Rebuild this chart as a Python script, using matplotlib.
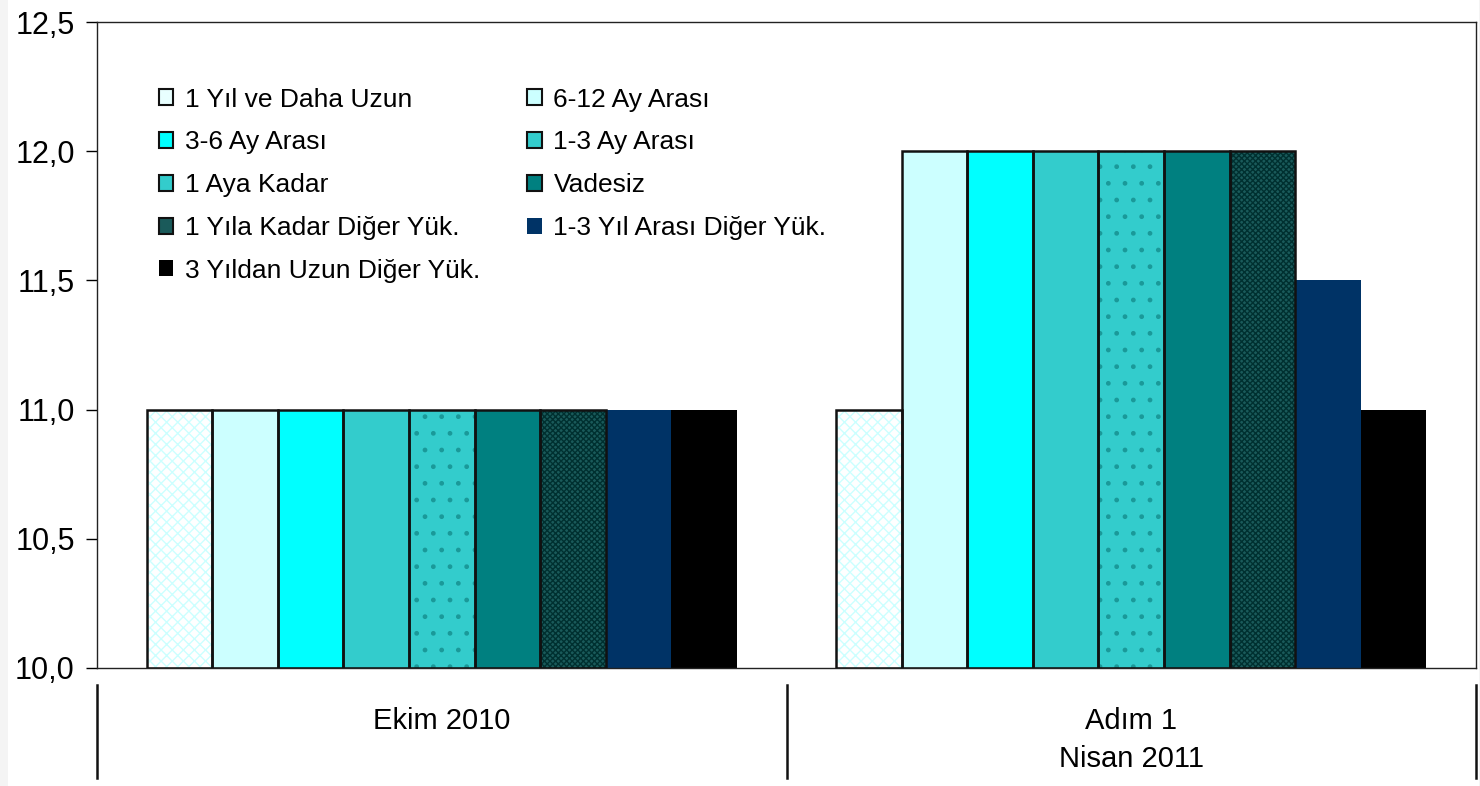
import matplotlib
matplotlib.use("Agg")
import matplotlib.pyplot as plt
from matplotlib.patches import Patch, Rectangle
import numpy as np

plt.rcParams['font.family'] = ['Liberation Sans', 'DejaVu Sans']
plt.rcParams['hatch.linewidth'] = 1.0

categories = ["Ekim 2010", "Adım 1\nNisan 2011"]
series_names = ["1 Yıl ve Daha Uzun", "6-12 Ay Arası", "3-6 Ay Arası", "1-3 Ay Arası",
                "1 Aya Kadar", "Vadesiz", "1 Yıla Kadar Diğer Yük.",
                "1-3 Yıl Arası Diğer Yük.", "3 Yıldan Uzun Diğer Yük."]
values = [
    [11.0, 11.0],
    [11.0, 12.0],
    [11.0, 12.0],
    [11.0, 12.0],
    [11.0, 12.0],
    [11.0, 12.0],
    [11.0, 12.0],
    [11.0, 11.5],
    [11.0, 11.0],
]
y_ticks = [10.0, 10.5, 11.0, 11.5, 12.0, 12.5]

# styles: facecolor, hatch, hatchcolor, black edge
styles = [
    ("#ffffff", "xxx", "#ccffff", True),
    ("#ccffff", None, None, True),
    ("#00ffff", None, None, True),
    ("#33cccc", None, None, True),
    ("#33cccc", ".", "#1a9999", True),
    ("#008080", None, None, True),
    ("#1a5a5a", "xxxxxx", "#003030", True),
    ("#003366", None, None, False),
    ("#000000", None, None, False),
]

fig = plt.figure(figsize=(14.8, 7.86), dpi=100, facecolor="#f4f4f4")
fig.patches.append(Rectangle((8 / 1480, 0), (1476 - 8) / 1480 + 0.002, 1,
                             transform=fig.transFigure, facecolor="white",
                             edgecolor="none", zorder=-10))
ax = fig.add_axes([97 / 1480, 1 - 668 / 786, (1476 - 97) / 1480, (668 - 22) / 786])

n = len(series_names)
group_w = 0.856
bw = group_w / n
x = np.arange(len(categories))
for i, (name, vals) in enumerate(zip(series_names, values)):
    fc, hatch, hc, edge = styles[i]
    pos = x - group_w / 2 + bw * (i + 0.5)
    if hatch:
        ax.bar(pos, np.array(vals) - 10, bw, bottom=10, color=fc, hatch=hatch,
               edgecolor=hc, linewidth=0, zorder=2)
    else:
        ax.bar(pos, np.array(vals) - 10, bw, bottom=10, color=fc, linewidth=0, zorder=2)
    if edge:
        ax.bar(pos, np.array(vals) - 10, bw, bottom=10, fill=False,
               edgecolor="#111111", linewidth=1.8, zorder=3)

ax.set_xlim(-0.5, 1.5)
ax.set_ylim(10, 12.5)
ax.set_yticks(y_ticks)
ax.set_yticklabels([f"{t:.1f}".replace(".", ",") for t in y_ticks], fontsize=22)
ax.tick_params(axis='y', direction='out', length=8, width=1, pad=8)
ax.set_xticks([])
for sp in ax.spines.values():
    sp.set_linewidth(1.0)
    sp.set_color("#222222")

# category labels and separators below axis
trans = ax.get_xaxis_transform()
for xi, lab in zip(x, categories):
    ax.text(xi, -0.06, lab, transform=trans, ha="center", va="top",
            fontsize=21, linespacing=1.45)
for xs in [-0.5, 0.5, 1.5]:
    ax.plot([xs, xs], [-0.026, -0.17], transform=trans, color="#111111",
            lw=1.8, clip_on=False)

handles = []
for i, name in enumerate(series_names):
    fc, hatch, hc, edge = styles[i]
    handles.append(Patch(facecolor=fc if not hatch or i != 0 else "#e8ffff",
                         edgecolor="#111111" if edge else fc,
                         linewidth=1.5 if edge else 0, label=name))
order = [0, 2, 4, 6, 8, 1, 3, 5, 7]
leg = ax.legend(handles=[handles[k] for k in order], ncol=2, loc="upper left",
                bbox_to_anchor=(0.0277, 0.935), frameon=False, fontsize=19,
                handlelength=0.55, handleheight=0.55, handletextpad=0.45,
                columnspacing=1.76, labelspacing=0.71)

fig.savefig("out.png", dpi=100, facecolor=fig.get_facecolor())
